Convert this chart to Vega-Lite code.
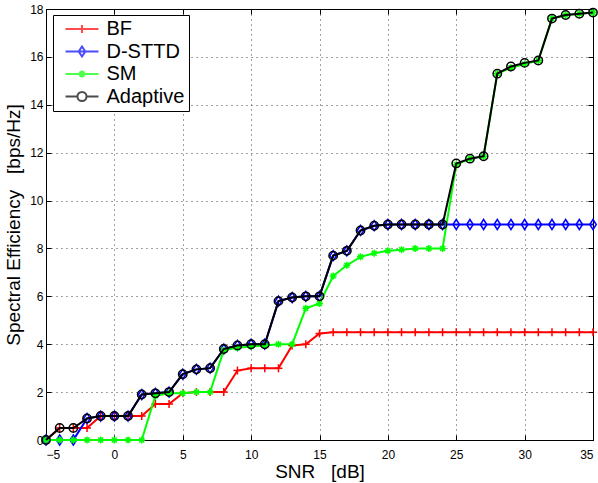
{
  "$schema": "https://vega.github.io/schema/vega-lite/v6.json",
  "width": 547,
  "height": 431,
  "autosize": {"type": "none"},
  "padding": {"left": 46, "top": 9, "right": 5, "bottom": 43},
  "background": "white",
  "config": {
    "font": "Liberation Sans",
    "view": {"stroke": "black", "strokeWidth": 1},
    "axis": {
      "domainColor": "black", "tickColor": "black", "labelColor": "black", "titleColor": "black",
      "labelFont": "Liberation Sans", "titleFont": "Liberation Sans",
      "labelFontSize": 12, "titleFontSize": 19, "titleFontWeight": "normal",
      "gridColor": "#444", "gridDash": [1, 4], "gridOpacity": 1,
      "tickSize": -5
    }
  },
  "data": {"values": [
    {"snr":-5,"series":"BF","value":0},{"snr":-4,"series":"BF","value":0.5},{"snr":-3,"series":"BF","value":0.5},{"snr":-2,"series":"BF","value":0.5},{"snr":-1,"series":"BF","value":1},{"snr":0,"series":"BF","value":1},{"snr":1,"series":"BF","value":1},{"snr":2,"series":"BF","value":1},{"snr":3,"series":"BF","value":1.5},{"snr":4,"series":"BF","value":1.5},{"snr":5,"series":"BF","value":1.95},{"snr":6,"series":"BF","value":2},{"snr":7,"series":"BF","value":2},{"snr":8,"series":"BF","value":2},{"snr":9,"series":"BF","value":2.9},{"snr":10,"series":"BF","value":3},{"snr":11,"series":"BF","value":3},{"snr":12,"series":"BF","value":3},{"snr":13,"series":"BF","value":3.95},{"snr":14,"series":"BF","value":4},{"snr":15,"series":"BF","value":4.45},{"snr":16,"series":"BF","value":4.5},{"snr":17,"series":"BF","value":4.5},{"snr":18,"series":"BF","value":4.5},{"snr":19,"series":"BF","value":4.5},{"snr":20,"series":"BF","value":4.5},{"snr":21,"series":"BF","value":4.5},{"snr":22,"series":"BF","value":4.5},{"snr":23,"series":"BF","value":4.5},{"snr":24,"series":"BF","value":4.5},{"snr":25,"series":"BF","value":4.5},{"snr":26,"series":"BF","value":4.5},{"snr":27,"series":"BF","value":4.5},{"snr":28,"series":"BF","value":4.5},{"snr":29,"series":"BF","value":4.5},{"snr":30,"series":"BF","value":4.5},{"snr":31,"series":"BF","value":4.5},{"snr":32,"series":"BF","value":4.5},{"snr":33,"series":"BF","value":4.5},{"snr":34,"series":"BF","value":4.5},{"snr":35,"series":"BF","value":4.5},
    {"snr":-5,"series":"D-STTD","value":0},{"snr":-4,"series":"D-STTD","value":0},{"snr":-3,"series":"D-STTD","value":0},{"snr":-2,"series":"D-STTD","value":0.9},{"snr":-1,"series":"D-STTD","value":1},{"snr":0,"series":"D-STTD","value":1},{"snr":1,"series":"D-STTD","value":1},{"snr":2,"series":"D-STTD","value":1.9},{"snr":3,"series":"D-STTD","value":1.95},{"snr":4,"series":"D-STTD","value":2},{"snr":5,"series":"D-STTD","value":2.75},{"snr":6,"series":"D-STTD","value":2.95},{"snr":7,"series":"D-STTD","value":3},{"snr":8,"series":"D-STTD","value":3.8},{"snr":9,"series":"D-STTD","value":3.95},{"snr":10,"series":"D-STTD","value":4},{"snr":11,"series":"D-STTD","value":4},{"snr":12,"series":"D-STTD","value":5.8},{"snr":13,"series":"D-STTD","value":5.95},{"snr":14,"series":"D-STTD","value":6},{"snr":15,"series":"D-STTD","value":6},{"snr":16,"series":"D-STTD","value":7.7},{"snr":17,"series":"D-STTD","value":7.9},{"snr":18,"series":"D-STTD","value":8.75},{"snr":19,"series":"D-STTD","value":8.95},{"snr":20,"series":"D-STTD","value":9},{"snr":21,"series":"D-STTD","value":9},{"snr":22,"series":"D-STTD","value":9},{"snr":23,"series":"D-STTD","value":9},{"snr":24,"series":"D-STTD","value":9},{"snr":25,"series":"D-STTD","value":9},{"snr":26,"series":"D-STTD","value":9},{"snr":27,"series":"D-STTD","value":9},{"snr":28,"series":"D-STTD","value":9},{"snr":29,"series":"D-STTD","value":9},{"snr":30,"series":"D-STTD","value":9},{"snr":31,"series":"D-STTD","value":9},{"snr":32,"series":"D-STTD","value":9},{"snr":33,"series":"D-STTD","value":9},{"snr":34,"series":"D-STTD","value":9},{"snr":35,"series":"D-STTD","value":9},
    {"snr":-5,"series":"SM","value":0},{"snr":-4,"series":"SM","value":0},{"snr":-3,"series":"SM","value":0},{"snr":-2,"series":"SM","value":0},{"snr":-1,"series":"SM","value":0},{"snr":0,"series":"SM","value":0},{"snr":1,"series":"SM","value":0},{"snr":2,"series":"SM","value":0},{"snr":3,"series":"SM","value":1.85},{"snr":4,"series":"SM","value":1.95},{"snr":5,"series":"SM","value":1.95},{"snr":6,"series":"SM","value":2},{"snr":7,"series":"SM","value":2},{"snr":8,"series":"SM","value":3.75},{"snr":9,"series":"SM","value":3.85},{"snr":10,"series":"SM","value":3.9},{"snr":11,"series":"SM","value":3.95},{"snr":12,"series":"SM","value":4},{"snr":13,"series":"SM","value":4},{"snr":14,"series":"SM","value":5.5},{"snr":15,"series":"SM","value":5.7},{"snr":16,"series":"SM","value":6.85},{"snr":17,"series":"SM","value":7.3},{"snr":18,"series":"SM","value":7.65},{"snr":19,"series":"SM","value":7.8},{"snr":20,"series":"SM","value":7.9},{"snr":21,"series":"SM","value":7.95},{"snr":22,"series":"SM","value":8},{"snr":23,"series":"SM","value":8},{"snr":24,"series":"SM","value":8},{"snr":25,"series":"SM","value":11.5},{"snr":26,"series":"SM","value":11.75},{"snr":27,"series":"SM","value":11.85},{"snr":28,"series":"SM","value":15.3},{"snr":29,"series":"SM","value":15.55},{"snr":30,"series":"SM","value":15.7},{"snr":31,"series":"SM","value":15.85},{"snr":32,"series":"SM","value":17.6},{"snr":33,"series":"SM","value":17.75},{"snr":34,"series":"SM","value":17.8},{"snr":35,"series":"SM","value":17.85},
    {"snr":-5,"series":"Adaptive","value":0},{"snr":-4,"series":"Adaptive","value":0.5},{"snr":-3,"series":"Adaptive","value":0.5},{"snr":-2,"series":"Adaptive","value":0.9},{"snr":-1,"series":"Adaptive","value":1},{"snr":0,"series":"Adaptive","value":1},{"snr":1,"series":"Adaptive","value":1},{"snr":2,"series":"Adaptive","value":1.9},{"snr":3,"series":"Adaptive","value":1.95},{"snr":4,"series":"Adaptive","value":2},{"snr":5,"series":"Adaptive","value":2.75},{"snr":6,"series":"Adaptive","value":2.95},{"snr":7,"series":"Adaptive","value":3},{"snr":8,"series":"Adaptive","value":3.8},{"snr":9,"series":"Adaptive","value":3.95},{"snr":10,"series":"Adaptive","value":4},{"snr":11,"series":"Adaptive","value":4},{"snr":12,"series":"Adaptive","value":5.8},{"snr":13,"series":"Adaptive","value":5.95},{"snr":14,"series":"Adaptive","value":6},{"snr":15,"series":"Adaptive","value":6},{"snr":16,"series":"Adaptive","value":7.7},{"snr":17,"series":"Adaptive","value":7.9},{"snr":18,"series":"Adaptive","value":8.75},{"snr":19,"series":"Adaptive","value":8.95},{"snr":20,"series":"Adaptive","value":9},{"snr":21,"series":"Adaptive","value":9},{"snr":22,"series":"Adaptive","value":9},{"snr":23,"series":"Adaptive","value":9},{"snr":24,"series":"Adaptive","value":9},{"snr":25,"series":"Adaptive","value":11.55},{"snr":26,"series":"Adaptive","value":11.75},{"snr":27,"series":"Adaptive","value":11.85},{"snr":28,"series":"Adaptive","value":15.3},{"snr":29,"series":"Adaptive","value":15.6},{"snr":30,"series":"Adaptive","value":15.75},{"snr":31,"series":"Adaptive","value":15.85},{"snr":32,"series":"Adaptive","value":17.6},{"snr":33,"series":"Adaptive","value":17.75},{"snr":34,"series":"Adaptive","value":17.8},{"snr":35,"series":"Adaptive","value":17.85}
  ]},
  "layer": [
    {
      "encoding": {
        "x": {"field": "snr", "type": "quantitative",
              "scale": {"domain": [-5, 35], "nice": false, "zero": false},
              "axis": {"values": [-5, 0, 5, 10, 15, 20, 25, 30, 35], "title": "SNR \u00a0 [dB]", "grid": true, "labelPadding": 14, "titlePadding": 2}},
        "y": {"field": "value", "type": "quantitative",
              "scale": {"domain": [0, 18], "nice": false, "zero": false},
              "axis": {"values": [0, 2, 4, 6, 8, 10, 12, 14, 16, 18], "title": "Spectral Efficiency \u00a0 [bps/Hz]", "grid": true, "labelPadding": 8, "titlePadding": 6}}
      },
      "layer": [
        {"transform": [{"filter": "datum.series === 'BF'"}],
         "mark": {"type": "line", "color": "#ff0000", "strokeWidth": 2,
                  "point": {"shape": "M-1,0H1M0,-1V1", "filled": false, "color": "#ff0000", "size": 64, "strokeWidth": 1.5}}},
        {"transform": [{"filter": "datum.series === 'D-STTD'"}],
         "mark": {"type": "line", "color": "#0000ff", "strokeWidth": 2,
                  "point": {"shape": "M0,-1L0.65,0L0,1L-0.65,0Z", "filled": false, "color": "#0000ff", "size": 100, "strokeWidth": 1.5}}},
        {"transform": [{"filter": "datum.series === 'SM'"}],
         "mark": {"type": "line", "color": "#00ff00", "strokeWidth": 2,
                  "point": {"shape": "M-1,0H1M0,-1V1M-0.7,-0.7L0.7,0.7M-0.7,0.7L0.7,-0.7", "filled": false, "color": "#00ff00", "size": 49, "strokeWidth": 1.5}}},
        {"transform": [{"filter": "datum.series === 'Adaptive'"}],
         "mark": {"type": "line", "color": "#000000", "strokeWidth": 2,
                  "point": {"shape": "circle", "filled": false, "color": "#000000", "size": 70, "strokeWidth": 1.5}}}
      ]
    },
    {
      "transform": [{"filter": "false"}],
      "mark": {"type": "point", "filled": false, "strokeWidth": 2},
      "encoding": {
        "x": {"field": "snr", "type": "quantitative",
              "axis": {"orient": "top", "values": [-5, 0, 5, 10, 15, 20, 25, 30, 35], "labels": false, "title": null, "grid": false}},
        "y": {"field": "value", "type": "quantitative",
              "axis": {"orient": "right", "values": [0, 2, 4, 6, 8, 10, 12, 14, 16, 18], "labels": false, "title": null, "grid": false}},
        "color": {"field": "series", "type": "nominal",
                  "scale": {"domain": ["BF", "D-STTD", "SM", "Adaptive"], "range": ["#ff0000", "#0000ff", "#00ff00", "#000000"]},
                  "legend": {"title": null, "orient": "none", "legendX": 7, "legendY": 6, "symbolSize": 272, "symbolStrokeWidth": 2,
                             "symbolOffset": 15, "labelExpr": "datum.label + '\u00a0\u00a0\u00a0'",
                             "labelFontSize": 20, "labelFont": "Liberation Sans", "labelColor": "black", "strokeColor": "black",
                             "fillColor": "white", "padding": 4, "rowPadding": 2.5, "labelOffset": 14.5}},
        "shape": {"field": "series", "type": "nominal",
                  "scale": {"domain": ["BF", "D-STTD", "SM", "Adaptive"],
                            "range": ["M-2,0H2M0,-0.48V0.48", "M-2,0H2M0,-0.6L0.4,0L0,0.6L-0.4,0Z", "M-2,0H2M0,-0.42V0.42M-0.3,-0.3L0.3,0.3M-0.3,0.3L0.3,-0.3", "M-2,0H-0.55M0.55,0H2M-0.55,0A0.55,0.55 0 1,0 0.55,0A0.55,0.55 0 1,0 -0.55,0"]}}
      }
    }
  ],
  "resolve": {"axis": {"x": "independent", "y": "independent"}}
}
